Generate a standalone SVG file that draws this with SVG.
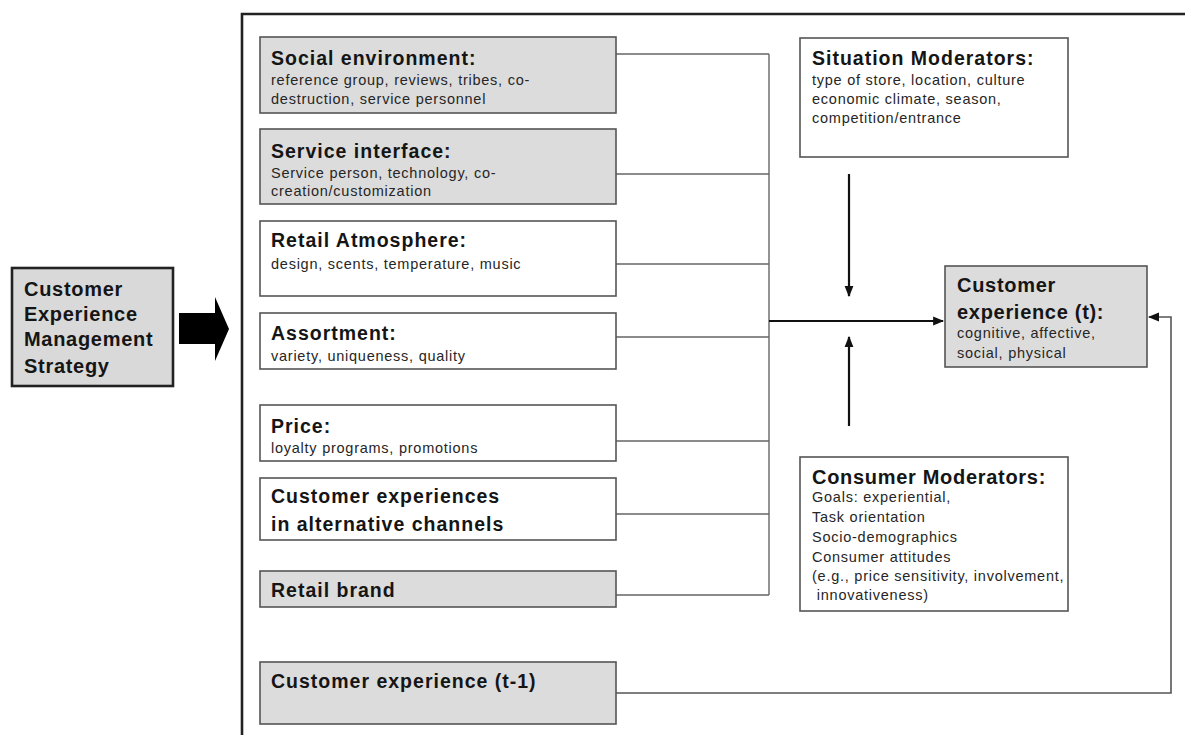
<svg xmlns="http://www.w3.org/2000/svg" width="1185" height="735" viewBox="0 0 1185 735">
<style>
.box{stroke:#555;stroke-width:1.6}
.g{fill:#dcdcdc}
.w{fill:#fff}
.t{font-family:"Liberation Sans",Arial,sans-serif;font-weight:bold;font-size:19.5px;fill:#151515;letter-spacing:1px}
.s{font-family:"Liberation Sans",Arial,sans-serif;font-size:14.5px;fill:#262626;letter-spacing:0.75px}
.big{font-family:"Liberation Sans",Arial,sans-serif;font-weight:bold;font-size:20px;fill:#151515;letter-spacing:0.7px}
.c{fill:none;stroke:#666;stroke-width:1.4}
.a{fill:none;stroke:#111;stroke-width:2.2}
</style>
<defs>
<marker id="ah" viewBox="0 0 10 10" refX="9" refY="5" markerWidth="5" markerHeight="5" orient="auto" markerUnits="strokeWidth">
<path d="M0,1 L10,5 L0,9 z" fill="#111"/>
</marker>
<marker id="ah2" viewBox="0 0 10 10" refX="9" refY="5" markerWidth="7" markerHeight="7" orient="auto" markerUnits="strokeWidth">
<path d="M0,1 L10,5 L0,9 z" fill="#111"/>
</marker>
</defs>
<rect width="1185" height="735" fill="#fff"/>
<g id="frame"><path d="M1190,14 H242 V740" fill="none" stroke="#222" stroke-width="2.6"/></g>
<g id="connectors">
<path class="c" d="M616,54 H769 M616,174 H769 M616,264 H769 M616,337 H769 M616,441 H769 M616,514 H769 M616,595 H769 M769,54 V595"/>
<path class="a" d="M769,321 H943" stroke-width="2.6" marker-end="url(#ah)"/>
<path class="a" d="M849,174 V296" marker-end="url(#ah)"/>
<path class="a" d="M849,426 V337" marker-end="url(#ah)"/>
<path d="M616,693 H1171 V317 H1149" fill="none" stroke="#555" stroke-width="1.6" marker-end="url(#ah2)"/>
</g>
<g id="cems">
<rect x="12" y="268" width="161" height="118" fill="#d9d9d9" stroke="#222" stroke-width="2.6"/>
<text class="big" x="24" y="296">Customer</text>
<text class="big" x="24" y="321">Experience</text>
<text class="big" x="24" y="346">Management</text>
<text class="big" x="24" y="373">Strategy</text>
</g>
<g id="bigArrow"><path d="M179,313 H215 V297 L229,329 L215,361 V344 H179 Z" fill="#000"/></g>
<g id="social">
<rect class="box g" x="260" y="37" width="356" height="76"/>
<text class="t" x="271" y="65">Social environment:</text>
<text class="s" x="271" y="85">reference group, reviews, tribes, co-</text>
<text class="s" x="271" y="104">destruction,  service personnel</text>
</g>
<g id="service">
<rect class="box g" x="260" y="129" width="356" height="75"/>
<text class="t" x="271" y="158">Service interface:</text>
<text class="s" x="271" y="178">Service person, technology, co-</text>
<text class="s" x="271" y="196">creation/customization</text>
</g>
<g id="atmosphere">
<rect class="box w" x="260" y="221" width="356" height="75"/>
<text class="t" x="271" y="247">Retail Atmosphere:</text>
<text class="s" x="271" y="269">design, scents,  temperature, music</text>
</g>
<g id="assortment">
<rect class="box w" x="260" y="313" width="356" height="56"/>
<text class="t" x="271" y="340">Assortment:</text>
<text class="s" x="271" y="361">variety, uniqueness, quality</text>
</g>
<g id="price">
<rect class="box w" x="260" y="405" width="356" height="56"/>
<text class="t" x="271" y="433">Price:</text>
<text class="s" x="271" y="453">loyalty programs, promotions</text>
</g>
<g id="alt">
<rect class="box w" x="260" y="478" width="356" height="62"/>
<text class="t" x="271" y="503">Customer experiences</text>
<text class="t" x="271" y="531">in alternative channels</text>
</g>
<g id="brand">
<rect class="box g" x="260" y="571" width="356" height="36"/>
<text class="t" x="271" y="597">Retail brand</text>
</g>
<g id="prev">
<rect class="box g" x="260" y="662" width="356" height="62"/>
<text class="t" x="271" y="688">Customer experience (t-1)</text>
</g>
<g id="situation">
<rect class="box w" x="800" y="38" width="268" height="119"/>
<text class="t" x="812" y="65">Situation Moderators:</text>
<text class="s" x="812" y="85">type of store, location, culture</text>
<text class="s" x="812" y="104">economic climate, season,</text>
<text class="s" x="812" y="123">competition/entrance</text>
</g>
<g id="cxt">
<rect class="box g" x="945" y="266" width="202" height="101"/>
<text class="big" x="957" y="292">Customer</text>
<text class="big" x="957" y="319">experience (t):</text>
<text class="s" x="957" y="338">cognitive, affective,</text>
<text class="s" x="957" y="358">social, physical</text>
</g>
<g id="consumer">
<rect class="box w" x="800" y="457" width="268" height="154"/>
<text class="big" x="812" y="484">Consumer Moderators:</text>
<text class="s" x="812" y="502">Goals: experiential,</text>
<text class="s" x="812" y="522">Task orientation</text>
<text class="s" x="812" y="542">Socio-demographics</text>
<text class="s" x="812" y="562">Consumer attitudes</text>
<text class="s" x="812" y="581">(e.g., price sensitivity, involvement,</text>
<text class="s" x="812" y="600" xml:space="preserve"> innovativeness)</text>
</g>
</svg>
